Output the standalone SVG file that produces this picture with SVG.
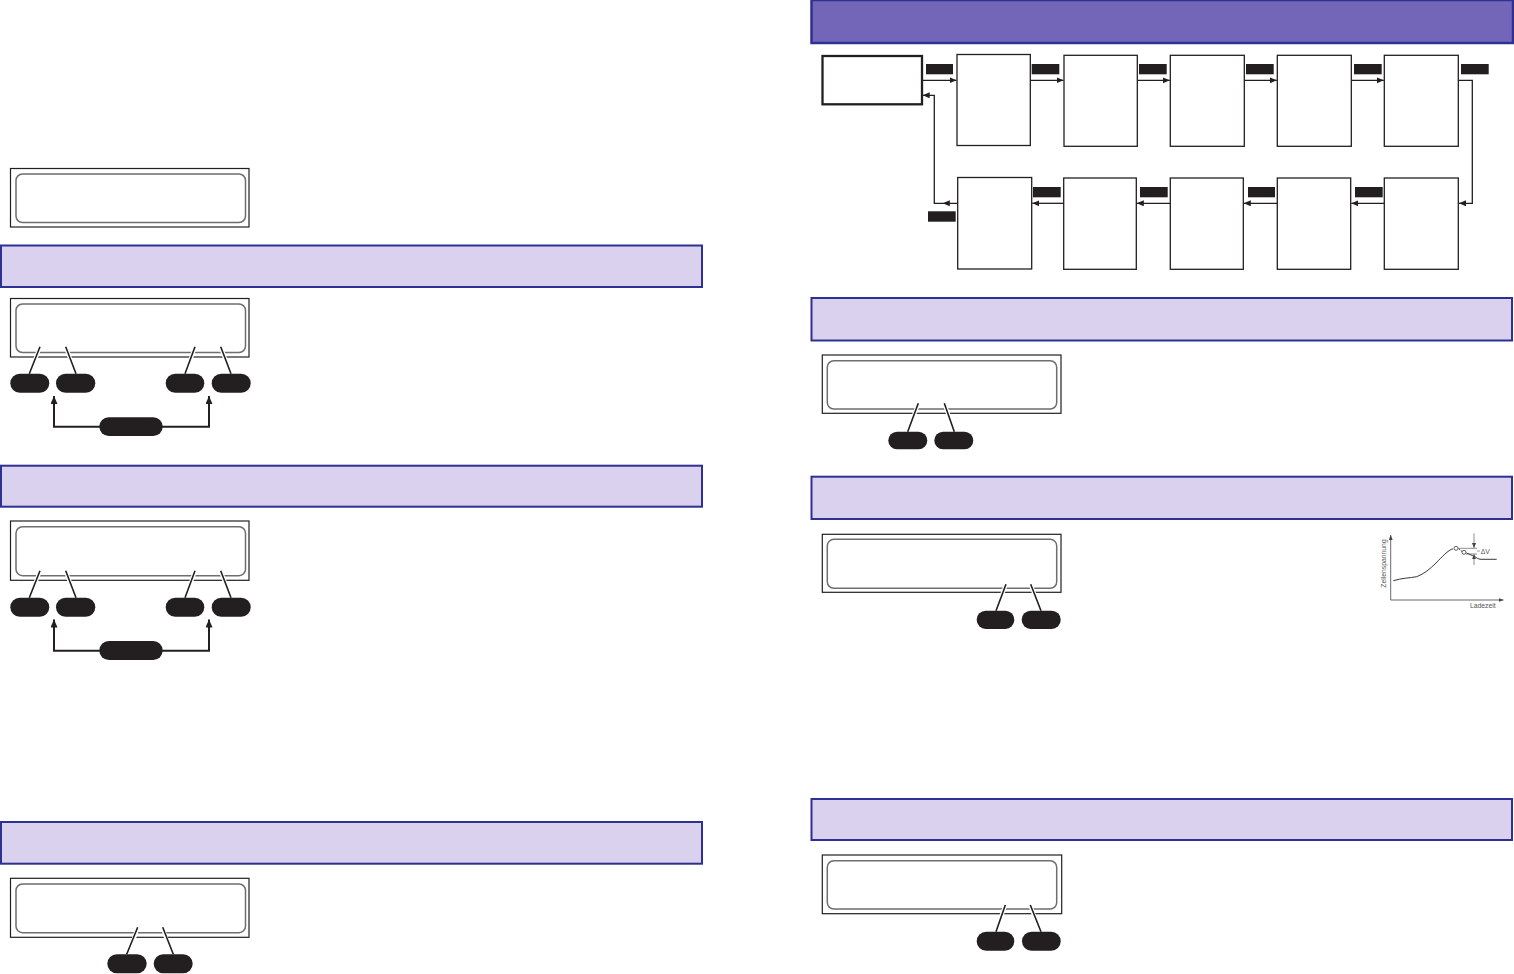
<svg xmlns="http://www.w3.org/2000/svg" width="1514" height="974" viewBox="0 0 1514 974">
<style>
.band{fill:#d9d1ee;stroke:#2e3192;stroke-width:2}
.bandDark{fill:#7366b9;stroke:#2e3192;stroke-width:2.5}
.lcdO{fill:#fff;stroke:#231f20;stroke-width:1.2}
.lcdI{fill:none;stroke:#6d6e71;stroke-width:1.5}
.pill{fill:#231f20}
.lead{stroke:#231f20;stroke-width:1.6;fill:none}
.halo{stroke:#fff;stroke-width:4;fill:none}
.conn{stroke:#231f20;stroke-width:1.3;fill:none}
.conn2{stroke:#231f20;stroke-width:2;fill:none}
.box{fill:#fff;stroke:#231f20;stroke-width:1.3}
.boxB{fill:#fff;stroke:#231f20;stroke-width:2.3}
.tag{fill:#231f20}
.gtxt{font-family:"Liberation Sans",Arial,sans-serif;font-size:6.8px;fill:#555}
</style>
<defs>
<marker id="ah" markerUnits="userSpaceOnUse" markerWidth="8" markerHeight="7" refX="7" refY="3" orient="auto">
<path d="M0,0 L7,3 L0,6 z" fill="#231f20"/>
</marker>
<marker id="ahB" markerUnits="userSpaceOnUse" markerWidth="9" markerHeight="8" refX="8" refY="3.5" orient="auto">
<path d="M0,0 L8,3.5 L0,7 z" fill="#231f20"/>
</marker>
<marker id="ahG" markerUnits="userSpaceOnUse" markerWidth="6" markerHeight="5" refX="5" refY="2" orient="auto">
<path d="M0,0 L5,2 L0,4 z" fill="#444"/>
</marker>
</defs>

<rect width="1514" height="974" fill="#fff"/>

<!-- LEFT COLUMN -->
<g id="lcd-top">
<rect class="lcdO" x="10.5" y="168.5" width="238.5" height="58.5"/>
<rect class="lcdI" x="16" y="174" width="229.5" height="48.5" rx="6.5"/>
</g>

<g id="band-l1"><rect class="band" x="1" y="245.5" width="701" height="41.5"/></g>
<g id="lcd-l1">
<rect class="lcdO" x="10.5" y="298.5" width="238.5" height="58.5"/>
<rect class="lcdI" x="16" y="304" width="229.5" height="48.5" rx="6.5"/>
<path class="halo" d="M40,347 L34.5,361 M65.7,347 L71,361 M195,347 L190,361 M220.7,347 L226,361"/>
<path class="lead" d="M40,346.7 L29.3,373.7 M65.7,346.7 L76,373.7 M195,346.7 L185,373.7 M220.7,346.7 L231,373.7"/>
<rect class="pill" x="10.3" y="373.7" width="39" height="19" rx="9.5"/>
<rect class="pill" x="56" y="373.7" width="39.3" height="19" rx="9.5"/>
<rect class="pill" x="165.7" y="373.7" width="38.6" height="19" rx="9.5"/>
<rect class="pill" x="211.7" y="373.7" width="39" height="19" rx="9.5"/>
<path class="conn2" d="M100,426.7 H54 V396" marker-end="url(#ahB)"/>
<path class="conn2" d="M162,426.7 H209 V396" marker-end="url(#ahB)"/>
<rect class="pill" x="99.3" y="417.3" width="63.4" height="18.7" rx="9.3"/>
</g>

<g id="band-l2"><rect class="band" x="1" y="465.7" width="701" height="41"/></g>
<g id="lcd-l2">
<rect class="lcdO" x="10.5" y="521" width="238.5" height="59.3"/>
<rect class="lcdI" x="16" y="526.7" width="229.5" height="49" rx="6.5"/>
<path class="halo" d="M40,571 L34.5,585 M65.7,571 L71,585 M195,571 L190,585 M220.7,571 L226,585"/>
<path class="lead" d="M40,570.7 L29.3,597.7 M65.7,570.7 L76,597.7 M195,570.7 L185,597.7 M220.7,570.7 L231,597.7"/>
<rect class="pill" x="10.3" y="597.7" width="39" height="19" rx="9.5"/>
<rect class="pill" x="56" y="597.7" width="39.3" height="19" rx="9.5"/>
<rect class="pill" x="165.7" y="597.7" width="38.6" height="19" rx="9.5"/>
<rect class="pill" x="211.7" y="597.7" width="39" height="19" rx="9.5"/>
<path class="conn2" d="M100,650.7 H54 V619.5" marker-end="url(#ahB)"/>
<path class="conn2" d="M162,650.7 H209 V619.5" marker-end="url(#ahB)"/>
<rect class="pill" x="99.3" y="641" width="63.4" height="19" rx="9.5"/>
</g>

<g id="band-l3"><rect class="band" x="1" y="822" width="701" height="41.7"/></g>
<g id="lcd-l3">
<rect class="lcdO" x="10.5" y="878.3" width="238.5" height="59"/>
<rect class="lcdI" x="16" y="884" width="229.5" height="48.7" rx="6.5"/>
<path class="halo" d="M137.7,927.5 L133,941 M162.7,927.5 L167,941"/>
<path class="lead" d="M137.7,927.3 L126.7,954.3 M162.7,927.3 L173.3,954.3"/>
<rect class="pill" x="107.3" y="954.3" width="39.4" height="19" rx="9.5"/>
<rect class="pill" x="153.7" y="954.3" width="39" height="19" rx="9.5"/>
</g>

<!-- RIGHT COLUMN -->
<g id="band-top"><rect class="bandDark" x="811.5" y="0" width="701.5" height="43"/></g>

<g id="flow-nodes">
<g id="n-start"><rect class="boxB" x="822.5" y="56" width="99.5" height="48.3"/></g>
<g id="n-t1"><rect class="box" x="957" y="54.5" width="73.3" height="91"/></g>
<g id="n-t2"><rect class="box" x="1064" y="55.3" width="73.3" height="91"/></g>
<g id="n-t3"><rect class="box" x="1170.3" y="55.3" width="74" height="91"/></g>
<g id="n-t4"><rect class="box" x="1277.3" y="55.3" width="74" height="91"/></g>
<g id="n-t5"><rect class="box" x="1384.3" y="55.3" width="74" height="91"/></g>
<g id="n-b1"><rect class="box" x="957.7" y="177.5" width="74" height="91.5"/></g>
<g id="n-b2"><rect class="box" x="1063.7" y="178" width="72.6" height="91.3"/></g>
<g id="n-b3"><rect class="box" x="1170.3" y="178" width="73" height="91.3"/></g>
<g id="n-b4"><rect class="box" x="1277.3" y="178" width="73.4" height="91.3"/></g>
<g id="n-b5"><rect class="box" x="1384.3" y="178" width="74" height="91.3"/></g>
</g>

<g id="flow-connectors">
<path class="conn" d="M922,80.3 H956.5" marker-end="url(#ah)"/>
<path class="conn" d="M1030.3,80.3 H1063.5" marker-end="url(#ah)"/>
<path class="conn" d="M1137.3,80.3 H1169.8" marker-end="url(#ah)"/>
<path class="conn" d="M1244.3,80.3 H1276.8" marker-end="url(#ah)"/>
<path class="conn" d="M1351.3,80.3 H1383.8" marker-end="url(#ah)"/>
<path class="conn" d="M1458.3,80.3 H1472.3 V203.3 H1459" marker-end="url(#ah)"/>
<path class="conn" d="M1384.3,203.3 H1351.3" marker-end="url(#ah)"/>
<path class="conn" d="M1277.3,203.3 H1243.8" marker-end="url(#ah)"/>
<path class="conn" d="M1170.3,203.3 H1136.8" marker-end="url(#ah)"/>
<path class="conn" d="M1063.7,203.3 H1032.3" marker-end="url(#ah)"/>
<path class="conn" d="M957.7,203.3 H934.3 V95.3 H922.7" marker-end="url(#ah)"/>
<path d="M942.8,203.3 L949.8,200.3 L949.8,206.3 z" fill="#231f20"/>
<rect class="tag" x="926" y="64" width="27" height="10.3"/>
<rect class="tag" x="1031.7" y="64" width="27.6" height="10.3"/>
<rect class="tag" x="1139" y="64" width="27.7" height="10.3"/>
<rect class="tag" x="1246" y="64" width="27.7" height="10.3"/>
<rect class="tag" x="1354" y="64" width="27.7" height="10.3"/>
<rect class="tag" x="1461" y="64" width="27.7" height="10.3"/>
<rect class="tag" x="1033" y="187" width="27.7" height="10.3"/>
<rect class="tag" x="1140" y="187" width="27.7" height="10.3"/>
<rect class="tag" x="1248" y="187" width="27" height="10.3"/>
<rect class="tag" x="1355" y="187" width="27.7" height="10.3"/>
<rect class="tag" x="928" y="211.3" width="27.7" height="10.4"/>
</g>

<g id="band-r1"><rect class="band" x="811.5" y="298" width="700.5" height="42.5"/></g>
<g id="lcd-r1">
<rect class="lcdO" x="822.3" y="355" width="238.7" height="58.3"/>
<rect class="lcdI" x="827.3" y="360.7" width="229.4" height="48.3" rx="6.5"/>
<path class="halo" d="M918.3,403.5 L914,415 M944.3,403.5 L948.5,415"/>
<path class="lead" d="M918.3,403.3 L907.7,431.7 M944.3,403.3 L954.3,431.7"/>
<rect class="pill" x="888.3" y="431.7" width="39" height="17.6" rx="8.8"/>
<rect class="pill" x="934.3" y="431.7" width="39" height="17.6" rx="8.8"/>
</g>

<g id="band-r2"><rect class="band" x="811.5" y="476.7" width="700.5" height="42.3"/></g>
<g id="lcd-r2">
<rect class="lcdO" x="822.3" y="534.3" width="238.7" height="58"/>
<rect class="lcdI" x="827.3" y="539.3" width="229.4" height="49" rx="6.5"/>
<path class="halo" d="M1006,584.5 L1001.5,596 M1030.7,584.5 L1035,596"/>
<path class="lead" d="M1006,584.3 L996,610.7 M1030.7,584.3 L1041,610.7"/>
<rect class="pill" x="976.7" y="610.7" width="37.6" height="18.3" rx="9"/>
<rect class="pill" x="1021.7" y="610.7" width="39" height="18.3" rx="9"/>
</g>

<g id="graph">
<path d="M1390.7,600 V535" stroke="#444" stroke-width="0.8" fill="none" marker-end="url(#ahG)"/>
<path d="M1390.7,600 H1503.5" stroke="#444" stroke-width="0.8" fill="none" marker-end="url(#ahG)"/>
<path d="M1393.3,580.7 C1402,578 1410,578 1416.7,576.7 C1424,574 1430,569 1436,563 C1442,557 1448,550 1453,548.8" stroke="#231f20" stroke-width="0.9" fill="none"/>
<path d="M1459,549 L1462,551.5" stroke="#231f20" stroke-width="0.9" fill="none" stroke-dasharray="1.5 1"/>
<path d="M1466.5,553 C1470,554.5 1472,555.5 1474,556 C1477,558 1478,559.2 1481,559.3 H1496.7" stroke="#231f20" stroke-width="0.9" fill="none"/>
<circle cx="1456" cy="548.3" r="2" fill="#fff" stroke="#231f20" stroke-width="0.7"/>
<circle cx="1464" cy="552.3" r="2" fill="#fff" stroke="#231f20" stroke-width="0.7"/>
<path d="M1458,548.3 H1477" stroke="#444" stroke-width="0.6" fill="none"/>
<path d="M1466,554 H1477" stroke="#444" stroke-width="0.6" fill="none"/>
<path d="M1474,533.3 V548" stroke="#444" stroke-width="0.6" fill="none" marker-end="url(#ahG)"/>
<path d="M1474,565 V554.3" stroke="#444" stroke-width="0.6" fill="none" marker-end="url(#ahG)"/>
<path d="M1477,551 H1480" stroke="#444" stroke-width="0.5" fill="none"/>
<text class="gtxt" x="1480.7" y="553.5">ΔV</text>
<text class="gtxt" x="1386" y="563.5" text-anchor="middle" transform="rotate(-90 1386 563.5)">Zellenspannung</text>
<text class="gtxt" x="1470" y="608.3">Ladezeit</text>
</g>

<g id="band-r3"><rect class="band" x="811.5" y="799" width="700.5" height="41"/></g>
<g id="lcd-r3">
<rect class="lcdO" x="822.3" y="855" width="239.4" height="58.7"/>
<rect class="lcdI" x="827.3" y="860.7" width="229.4" height="48.3" rx="6.5"/>
<path class="halo" d="M1005.3,905.2 L1001,917 M1030.3,905.2 L1034.5,917"/>
<path class="lead" d="M1005.3,905 L996,931.7 M1030.3,905 L1041,931.7"/>
<rect class="pill" x="976.7" y="931.7" width="37.6" height="19" rx="9.5"/>
<rect class="pill" x="1022" y="931.7" width="38.7" height="19" rx="9.5"/>
</g>
</svg>
